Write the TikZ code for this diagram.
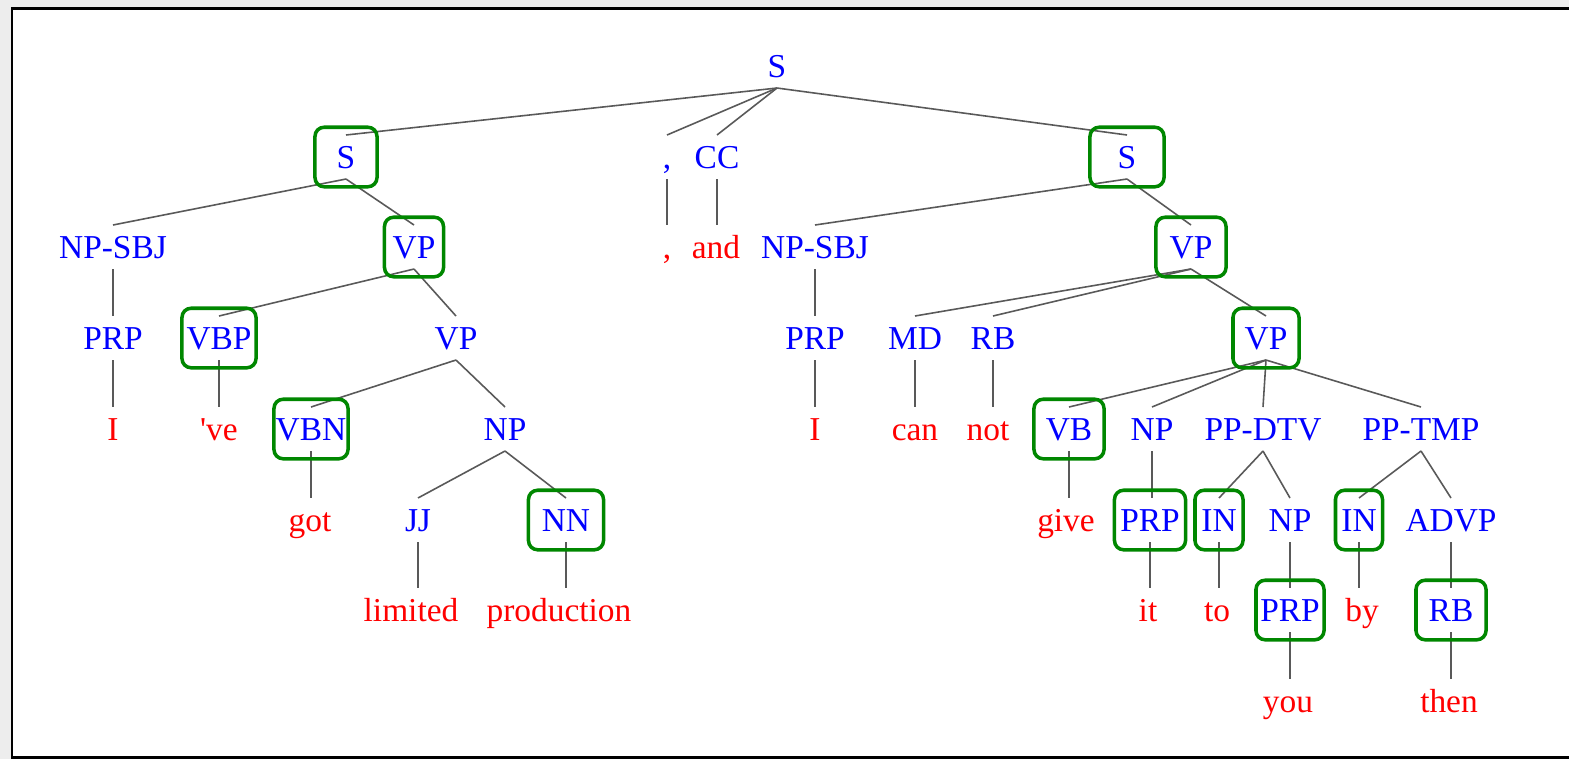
\documentclass[tikz,border=0pt]{standalone}
\usepackage{fontspec}
\setmainfont{Liberation Serif}
\definecolor{tagblue}{RGB}{0,0,255}
\definecolor{wordred}{RGB}{255,0,0}
\definecolor{boxgreen}{RGB}{0,135,0}
\tikzset{
	lbl/.style={anchor=base, inner xsep=0pt, inner ysep=0pt, outer sep=0pt,
		text height=0.33cm, text depth=0.11cm, font=\fontsize{9.5pt}{11pt}\selectfont},
	tag/.style={lbl, text=tagblue},
	word/.style={lbl, text=wordred},
	branch/.style={draw=black!65, line width=0.45pt},
	hl/.style={draw=boxgreen, line width=1pt, rounded corners=2.6pt, inner sep=0pt,
		minimum width=#1, minimum height=0.595cm}
}

\begin{document}
\begin{tikzpicture}[x=0.01cm, y=-0.01cm]
	\useasboundingbox (0,0) rectangle (1569,759);
	\fill[black!7] (0,0) rectangle (1569,759);
	\draw[line width=0.85pt, fill=white] (12,8.5) rectangle (1600,757.5);

	% row 0
	\node[tag] (sroot) at (777,77) {S};
	% row 1
	\node[tag] (sa) at (346,168) {S};
	\node[tag] (comma) at (667,168) {,};
	\node[tag] (cc) at (717,168) {CC};
	\node[tag] (sb) at (1127,168) {S};
	% row 2
	\node[tag] (npsbja) at (113,258) {NP-SBJ};
	\node[tag] (vpa) at (414,258) {VP};
	\node[word] (commaw) at (667,258) {,};
	\node[word] (andw) at (716,258) {and};
	\node[tag] (npsbjb) at (815,258) {NP-SBJ};
	\node[tag] (vpb) at (1191,258) {VP};
	% row 3
	\node[tag] (prpa) at (113,349) {PRP};
	\node[tag] (vbp) at (219,349) {VBP};
	\node[tag] (vpc) at (456,349) {VP};
	\node[tag] (prpb) at (815,349) {PRP};
	\node[tag] (md) at (915,349) {MD};
	\node[tag] (rb) at (993,349) {RB};
	\node[tag] (vpd) at (1266,349) {VP};
	% row 4
	\node[word] (ia) at (113,440) {I};
	\node[word] (ve) at (219,440) {\textquotesingle ve};
	\node[tag] (vbn) at (311,440) {VBN};
	\node[tag] (npa) at (505,440) {NP};
	\node[word] (ib) at (815,440) {I};
	\node[word] (can) at (915,440) {can};
	\node[word] (not) at (988,440) {not};
	\node[tag] (vb) at (1069,440) {VB};
	\node[tag] (npb) at (1152,440) {NP};
	\node[tag] (ppdtv) at (1263,440) {PP-DTV};
	\node[tag] (pptmp) at (1421,440) {PP-TMP};
	% row 5
	\node[word] (got) at (310,531) {got};
	\node[tag] (jj) at (418,531) {JJ};
	\node[tag] (nn) at (566,531) {NN};
	\node[word] (give) at (1066,531) {give};
	\node[tag] (prpc) at (1150,531) {PRP};
	\node[tag] (ina) at (1219,531) {IN};
	\node[tag] (npc) at (1290,531) {NP};
	\node[tag] (inb) at (1359,531) {IN};
	\node[tag] (advp) at (1451,531) {ADVP};
	% row 6
	\node[word] (limited) at (411,621) {limited};
	\node[word] (production) at (559,621) {production};
	\node[word] (it) at (1148,621) {it};
	\node[word] (to) at (1217,621) {to};
	\node[tag] (prpd) at (1290,621) {PRP};
	\node[word] (by) at (1362,621) {by};
	\node[tag] (rbb) at (1451,621) {RB};
	% row 7
	\node[word] (you) at (1288,712) {you};
	\node[word] (then) at (1449,712) {then};

	% branches with several children
	\draw[branch] (sroot.south) -- (sa.north);
	\draw[branch] (sroot.south) -- (comma.north);
	\draw[branch] (sroot.south) -- (cc.north);
	\draw[branch] (sroot.south) -- (sb.north);
	\draw[branch] (sa.south) -- (npsbja.north);
	\draw[branch] (sa.south) -- (vpa.north);
	\draw[branch] (sb.south) -- (npsbjb.north);
	\draw[branch] (sb.south) -- (vpb.north);
	\draw[branch] (vpa.south) -- (vbp.north);
	\draw[branch] (vpa.south) -- (vpc.north);
	\draw[branch] (vpb.south) -- (md.north);
	\draw[branch] (vpb.south) -- (rb.north);
	\draw[branch] (vpb.south) -- (vpd.north);
	\draw[branch] (vpc.south) -- (vbn.north);
	\draw[branch] (vpc.south) -- (npa.north);
	\draw[branch] (vpd.south) -- (vb.north);
	\draw[branch] (vpd.south) -- (npb.north);
	\draw[branch] (vpd.south) -- (ppdtv.north);
	\draw[branch] (vpd.south) -- (pptmp.north);
	\draw[branch] (npa.south) -- (jj.north);
	\draw[branch] (npa.south) -- (nn.north);
	\draw[branch] (ppdtv.south) -- (ina.north);
	\draw[branch] (ppdtv.south) -- (npc.north);
	\draw[branch] (pptmp.south) -- (inb.north);
	\draw[branch] (pptmp.south) -- (advp.north);
	% single child: straight down
	\draw[branch] (comma.south) -- (comma.south |- commaw.north);
	\draw[branch] (cc.south) -- (cc.south |- andw.north);
	\draw[branch] (npsbja.south) -- (npsbja.south |- prpa.north);
	\draw[branch] (npsbjb.south) -- (npsbjb.south |- prpb.north);
	\draw[branch] (prpa.south) -- (prpa.south |- ia.north);
	\draw[branch] (vbp.south) -- (vbp.south |- ve.north);
	\draw[branch] (prpb.south) -- (prpb.south |- ib.north);
	\draw[branch] (md.south) -- (md.south |- can.north);
	\draw[branch] (rb.south) -- (rb.south |- not.north);
	\draw[branch] (vbn.south) -- (vbn.south |- got.north);
	\draw[branch] (vb.south) -- (vb.south |- give.north);
	\draw[branch] (npb.south) -- (npb.south |- prpc.north);
	\draw[branch] (jj.south) -- (jj.south |- limited.north);
	\draw[branch] (nn.south) -- (nn.south |- production.north);
	\draw[branch] (prpc.south) -- (prpc.south |- it.north);
	\draw[branch] (ina.south) -- (ina.south |- to.north);
	\draw[branch] (npc.south) -- (npc.south |- prpd.north);
	\draw[branch] (inb.south) -- (inb.south |- by.north);
	\draw[branch] (advp.south) -- (advp.south |- rbb.north);
	\draw[branch] (prpd.south) -- (prpd.south |- you.north);
	\draw[branch] (rbb.south) -- (rbb.south |- then.north);

	% highlighted boxes
	\node[hl=0.62cm] (sabox) at (sa) {};
	\node[hl=0.74cm] (sbbox) at (sb) {};
	\node[hl=0.59cm] (vpabox) at (vpa) {};
	\node[hl=0.70cm] (vpbbox) at (vpb) {};
	\node[hl=0.66cm] (vpdbox) at (vpd) {};
	\node[hl=0.74cm] (vbpbox) at (vbp) {};
	\node[hl=0.74cm] (vbnbox) at (vbn) {};
	\node[hl=0.75cm] (nnbox) at (nn) {};
	\node[hl=0.70cm] (vbbox) at (vb) {};
	\node[hl=0.71cm] (prpcbox) at (prpc) {};
	\node[hl=0.48cm] (inabox) at (ina) {};
	\node[hl=0.47cm] (inbbox) at (inb) {};
	\node[hl=0.68cm] (prpdbox) at (prpd) {};
	\node[hl=0.70cm] (rbbbox) at (rbb) {};
\end{tikzpicture}
\end{document}
